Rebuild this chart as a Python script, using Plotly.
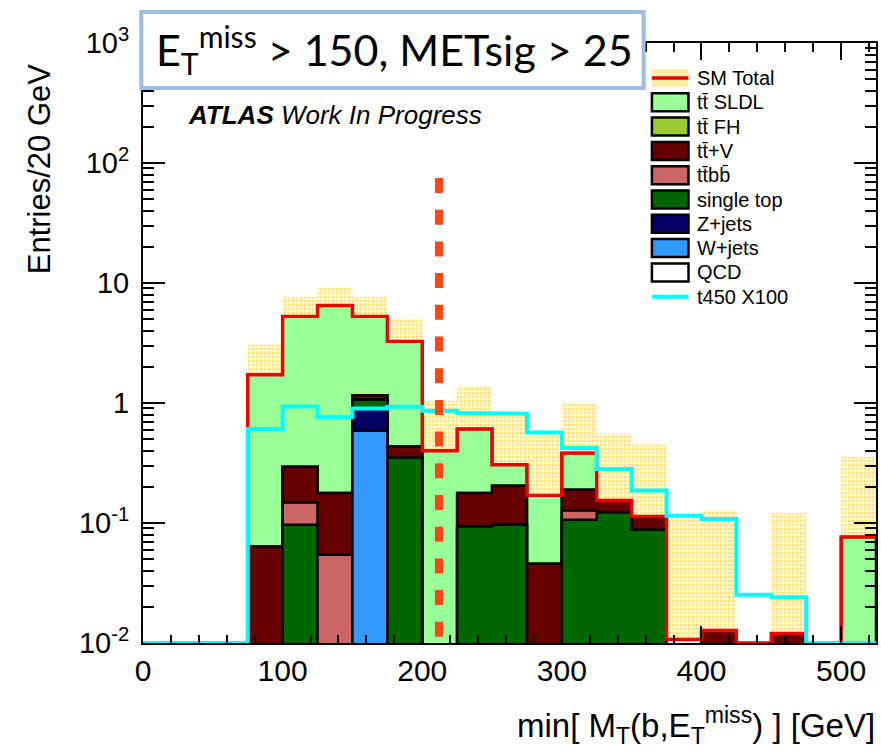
import plotly.graph_objects as go

# ---------------- data ----------------
bin_edges = [0, 25, 50, 75, 100, 125, 150, 175, 200, 225, 250, 275, 300, 325,
             350, 375, 400, 425, 450, 475, 500, 525]

# background components (bin contents per 25 GeV bin)
qcd        = [0, 0, 0, 0, 0, 0, 0, 0, 0, 0, 0, 0, 0, 0, 0, 0.0107, 0, 0, 0, 0, 0]
w_jets     = [0, 0, 0, 0, 0, 0, 0.588, 0, 0, 0, 0, 0, 0, 0, 0, 0, 0, 0, 0, 0, 0]
z_jets     = [0, 0, 0, 0, 0, 0, 0.317, 0, 0, 0, 0, 0, 0, 0, 0, 0, 0, 0, 0, 0, 0]
single_top = [0, 0, 0, 0, 0.0968, 0, 0.16, 0.35, 0, 0.0937, 0.0968, 0, 0.1065,
              0.1225, 0.0879, 0, 0, 0, 0, 0, 0]
ttbb       = [0, 0, 0, 0, 0.0517, 0.0544, 0, 0, 0, 0, 0, 0, 0.0208, 0, 0, 0, 0, 0, 0, 0, 0]
ttv        = [0, 0, 0, 0.0638, 0.146, 0.1236, 0.095, 0.085, 0, 0.084, 0.108, 0.0458,
              0.062, 0.0315, 0.0256, 0, 0.0127, 0, 0.0120, 0, 0]
tt_fh      = [0, 0, 0, 0, 0, 0, 0, 0, 0, 0, 0, 0, 0, 0, 0, 0, 0, 0, 0, 0, 0]
tt_sldl    = [0, 0, 0, 1.656, 4.975, 6.32, 4.11, 2.825, 0.40, 0.429, 0.101, 0.124,
              0.193, 0, 0, 0, 0, 0, 0, 0, 0.0765]

sm_err     = [0, 0, 0, 1.34, 2.37, 2.58, 2.37, 1.75, 0.64, 0.78, 0.545, 0.382, 0.617,
              0.40, 0.336, 0.103, 0.114, 0, 0.109, 0, 0.278]

signal_t450_x100 = [0, 0, 0, 0.607, 0.937, 0.76, 0.90, 0.93, 0.862, 0.826, 0.815,
                    0.569, 0.422, 0.282, 0.187, 0.115, 0.108, 0.0253, 0.024, 0, 0]

cut_value = 212
cut_line_top = 75

# stack order: bottom -> top
stack_names  = ["QCD", "W+jets", "Z+jets", "single top", "tt\u0304bb\u0304",
                "tt\u0304+V", "tt\u0304 FH", "tt\u0304 SLDL"]
stack_values = [qcd, w_jets, z_jets, single_top, ttbb, ttv, tt_fh, tt_sldl]
stack_colors = ["#FFFFFF", "#3399FF", "#000066", "#006600", "#CC6666",
                "#660000", "#99CC33", "#99FF99"]

y_ticks = [0.01, 0.1, 1, 10, 100, 1000]
y_tick_text = ["10<sup>-2</sup>", "10<sup>-1</sup>", "1", "10",
               "10<sup>2</sup>", "10<sup>3</sup>"]

# ---------------- helpers ----------------
YMIN, YMAX = 0.01, 1000
FLOOR = 1e-3
nb = len(bin_edges) - 1


def step_polygon(vals):
    xs, ys = [bin_edges[0]], [FLOOR]
    for i in range(nb):
        h = vals[i] if vals[i] > 0 else FLOOR
        xs += [bin_edges[i], bin_edges[i + 1]]
        ys += [h, h]
    xs.append(bin_edges[-1])
    ys.append(FLOOR)
    return xs, ys


def step_line(vals):
    xs, ys = [], []
    for i in range(nb):
        h = vals[i] if vals[i] > 0 else YMIN
        xs += [bin_edges[i], bin_edges[i + 1]]
        ys += [h, h]
    return xs, ys


# cumulative stack
cums = []
running = [0.0] * nb
for vals in stack_values:
    running = [running[i] + vals[i] for i in range(nb)]
    cums.append(list(running))
sm_total = cums[-1]

fig = go.Figure()

# stacked histograms (largest cumulative first)
for cum, color in zip(reversed(cums), reversed(stack_colors)):
    xs, ys = step_polygon(cum)
    fig.add_trace(go.Scatter(x=xs, y=ys, mode="lines", fill="toself",
                             fillcolor=color, line=dict(color="black", width=2.5),
                             hoverinfo="skip", showlegend=False))

# uncertainty band
centers = [(bin_edges[i] + bin_edges[i + 1]) / 2 for i in range(nb)]
lower = [max(sm_total[i] - sm_err[i], FLOOR) if sm_err[i] > 0 else FLOOR for i in range(nb)]
upper = [sm_total[i] + sm_err[i] if sm_err[i] > 0 else FLOOR for i in range(nb)]
fig.add_trace(go.Bar(x=centers, y=[upper[i] - lower[i] for i in range(nb)], base=lower,
                     width=25, hoverinfo="skip", showlegend=False,
                     marker=dict(color="rgba(0,0,0,0)", line=dict(width=0),
                                 pattern=dict(shape=".", fgcolor="#FFCC00",
                                              bgcolor="rgba(0,0,0,0)", size=4,
                                              solidity=0.65, fillmode="overlay"))))

# SM total line
xs, ys = step_line(sm_total)
fig.add_trace(go.Scatter(x=xs, y=ys, mode="lines", line=dict(color="#EE0000", width=3.4),
                         hoverinfo="skip", showlegend=False))

# signal line
xs, ys = step_line(signal_t450_x100)
fig.add_trace(go.Scatter(x=xs, y=ys, mode="lines", line=dict(color="#00FFFF", width=4),
                         hoverinfo="skip", showlegend=False))

# cut line
fig.add_trace(go.Scatter(x=[cut_value, cut_value], y=[cut_line_top, YMIN], mode="lines",
                         line=dict(color="#FF4415", width=8, dash="15px,16.7px"),
                         hoverinfo="skip", showlegend=False))

# ---------------- layout ----------------
W, H = 881, 751
ML, MR, MT, MB = 143, 3, 43, 108
PW, PH = W - ML - MR, H - MT - MB


def px_x(px):
    return (px - ML) / PW


def px_y(py):
    return (MT + PH - py) / PH


minor_y = [k * 10 ** d for d in range(-2, 3) for k in range(2, 10)]

fig.update_layout(
    width=W, height=H, margin=dict(l=ML, r=MR, t=MT, b=MB),
    paper_bgcolor="white", plot_bgcolor="white", barmode="overlay",
    showlegend=False,
    font=dict(family="Liberation Sans, Arial, sans-serif", color="black"),
    xaxis=dict(range=[0, 525], showgrid=False, zeroline=False, showline=True,
               linecolor="black", linewidth=2, mirror="ticks", ticks="inside",
               ticklen=17, tickwidth=2, tickcolor="black", tick0=0, dtick=100,
               minor=dict(dtick=20, tick0=0, ticks="inside", ticklen=8.5,
                          tickwidth=2, tickcolor="black"),
               tickfont=dict(size=30, family="Liberation Sans"),
               ticklabelstandoff=0),
    yaxis=dict(type="log", range=[-2, 3], showgrid=False, zeroline=False,
               showline=True, linecolor="black", linewidth=2, mirror="ticks",
               ticks="inside", ticklen=22, tickwidth=2, tickcolor="black",
               tickmode="array", tickvals=y_ticks, ticktext=y_tick_text,
               minor=dict(tickmode="array", tickvals=minor_y, ticks="inside",
                          ticklen=11, tickwidth=2, tickcolor="black"),
               tickfont=dict(size=29, family="Liberation Sans"),
               ticklabelstandoff=6),
)

shapes = []
annotations = []

# title box
shapes.append(dict(type="rect", xref="paper", yref="paper",
                   x0=px_x(141.3), x1=px_x(645), y0=px_y(88), y1=px_y(12),
                   fillcolor="white", line=dict(color="#9DBDE6", width=4),
                   layer="above"))
annotations.append(dict(xref="paper", yref="paper", x=px_x(395), y=px_y(49),
                        xanchor="center", yanchor="middle", showarrow=False,
                        text="E<sub>T</sub><sup>miss</sup> > 150, METsig > 25",
                        font=dict(family="Lato, Open Sans, sans-serif", size=43,
                                  color="black")))

# ATLAS label
annotations.append(dict(xref="paper", yref="paper", x=px_x(186), y=px_y(115),
                        xanchor="left", yanchor="middle", showarrow=False,
                        text="<b><i>ATLAS</i></b><i> Work In Progress</i>",
                        font=dict(family="Liberation Sans", size=26, color="black")))

# axis titles
annotations.append(dict(xref="paper", yref="paper", x=px_x(879), y=px_y(725),
                        xanchor="right", yanchor="middle", showarrow=False,
                        text="min[ M<sub>T</sub>(b,E<sub>T</sub><sup>miss</sup>) ] [GeV]",
                        font=dict(family="Liberation Sans", size=33, color="black")))
annotations.append(dict(xref="paper", yref="paper", x=px_x(40), y=px_y(169),
                        xanchor="center", yanchor="middle", showarrow=False,
                        textangle=-90, text="Entries/20 GeV",
                        font=dict(family="Liberation Sans", size=31, color="black")))

# manual legend
leg_x0, leg_x1, leg_tx = 653.3, 690, 697
leg_y0, leg_dy = 78, 24.3
legend_labels = ["SM Total"] + list(reversed(stack_names)) + ["t450 X100"]
for i, label in enumerate(legend_labels):
    cy = leg_y0 + i * leg_dy
    if i == 0:
        shapes.append(dict(type="rect", xref="paper", yref="paper",
                           x0=px_x(leg_x0), x1=px_x(leg_x1), y0=px_y(cy + 9), y1=px_y(cy - 9),
                           fillcolor="#FFEFA6", line=dict(width=0), layer="above"))
        shapes.append(dict(type="line", xref="paper", yref="paper",
                           x0=px_x(leg_x0), x1=px_x(leg_x1), y0=px_y(cy), y1=px_y(cy),
                           line=dict(color="#EE0000", width=3.4), layer="above"))
    elif i == len(legend_labels) - 1:
        shapes.append(dict(type="line", xref="paper", yref="paper",
                           x0=px_x(leg_x0), x1=px_x(leg_x1), y0=px_y(cy), y1=px_y(cy),
                           line=dict(color="#00FFFF", width=4), layer="above"))
    else:
        color = list(reversed(stack_colors))[i - 1]
        shapes.append(dict(type="rect", xref="paper", yref="paper",
                           x0=px_x(leg_x0), x1=px_x(leg_x1), y0=px_y(cy + 9), y1=px_y(cy - 9),
                           fillcolor=color, line=dict(color="black", width=2.5),
                           layer="above"))
    annotations.append(dict(xref="paper", yref="paper", x=px_x(leg_tx), y=px_y(cy),
                            xanchor="left", yanchor="middle", showarrow=False,
                            text=label,
                            font=dict(family="Liberation Sans", size=20, color="black")))

fig.update_layout(shapes=shapes, annotations=annotations)

fig.write_html("out.html")
